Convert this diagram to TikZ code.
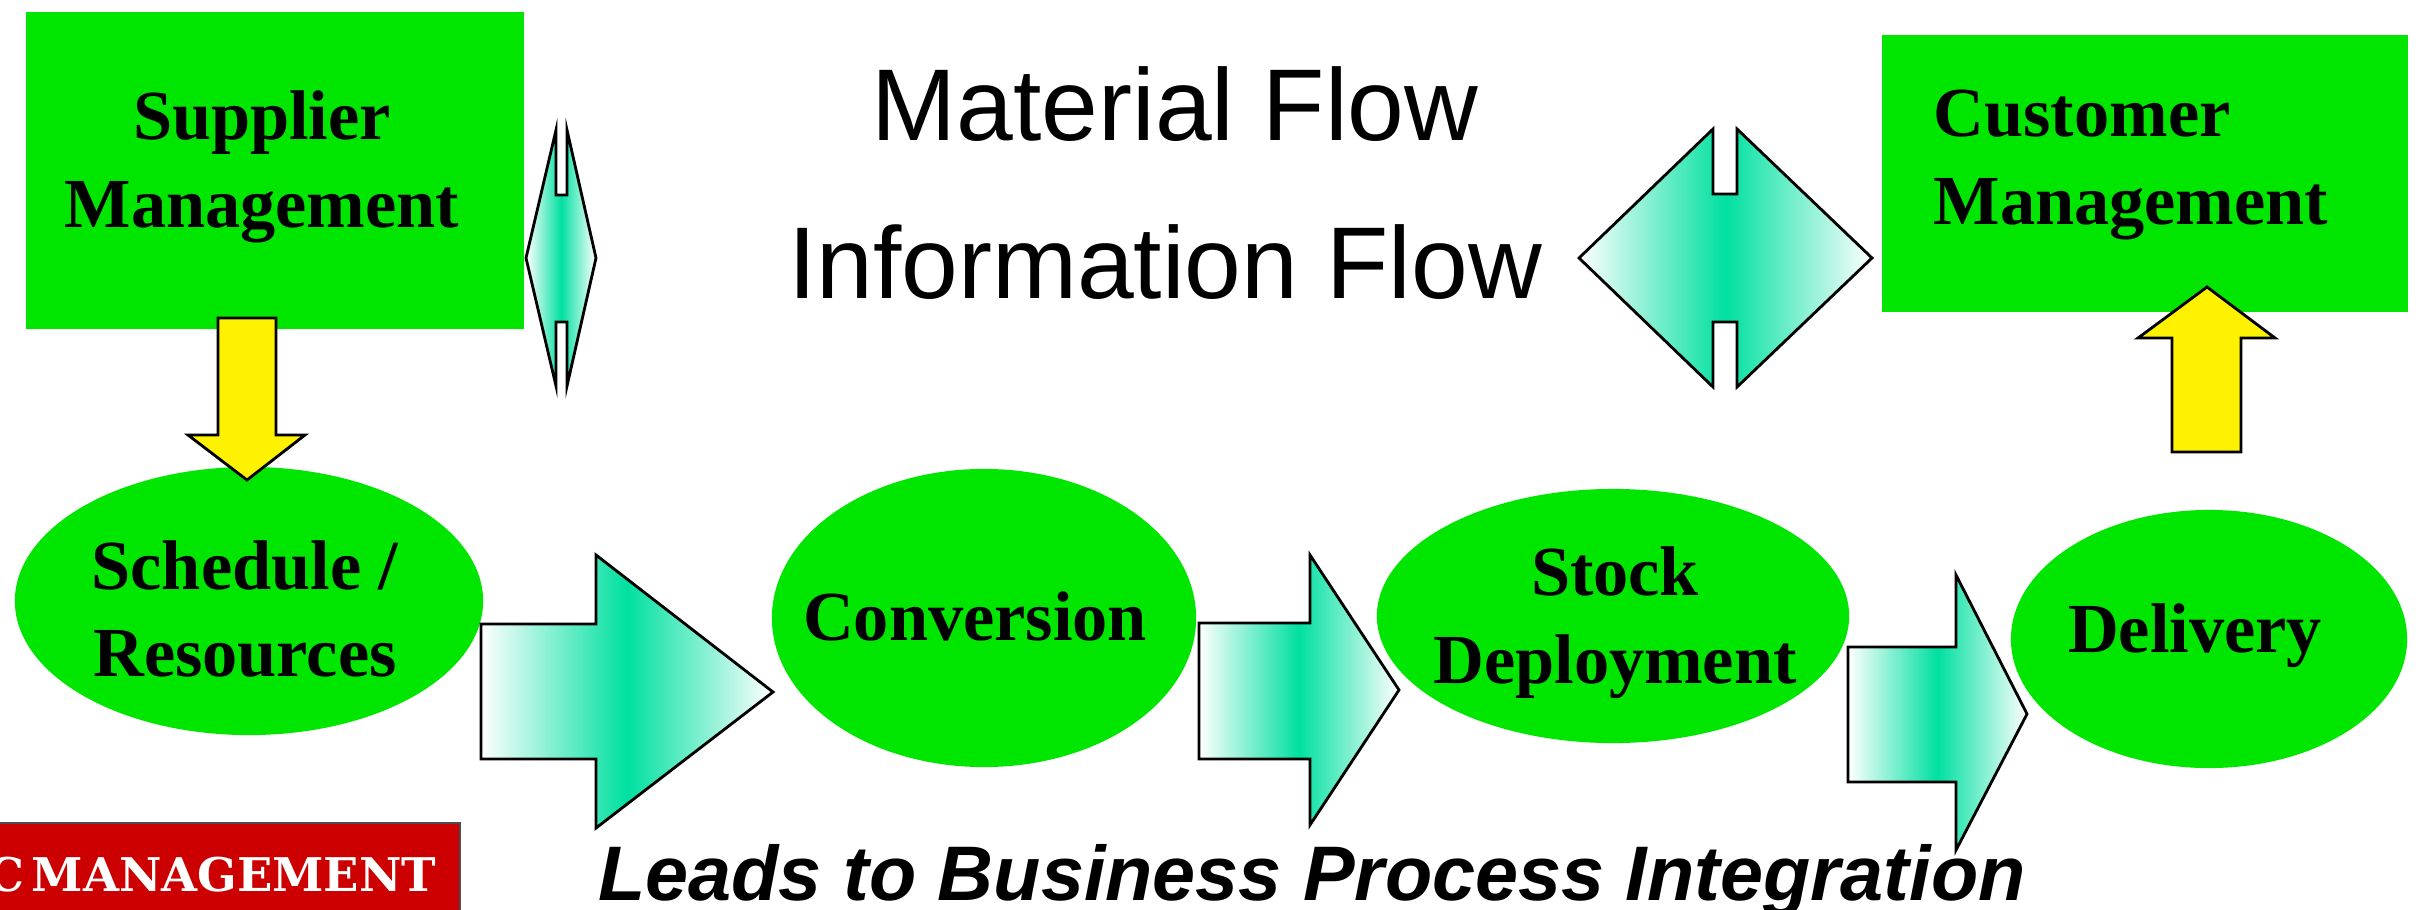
\documentclass[tikz,border=0pt]{standalone}
\usepackage{fontspec}
\setmainfont{Liberation Serif}
\setsansfont{Liberation Sans}
\newfontfamily\tagfont{DejaVu Serif}
\definecolor{boxgreen}{RGB}{0,230,0}
\definecolor{flowteal}{RGB}{0,224,160}
\definecolor{tagred}{RGB}{204,0,0}

\begin{document}
\begin{tikzpicture}[x=0.01cm,y=-0.01cm,
  boxtext/.style={font=\bfseries\fontsize{20}{25}\selectfont,align=center,inner sep=0pt},
  flowshape/.style={draw,line width=0.8pt,left color=white,right color=white,middle color=flowteal},
  yellowarrow/.style={draw,line width=0.8pt,fill=yellow}]
\path[use as bounding box,clip] (0,0) rectangle (2419,909);

\fill[boxgreen] (26,12) rectangle (524,329);
\node[boxtext] (supplier) at (262,167) {Supplier\\Management};
\fill[boxgreen] (1882,35) rectangle (2408,312);
\node[boxtext,align=left,anchor=west] (customer) at (1933,165) {Customer\\Management};

\fill[boxgreen] (249,601) ellipse (2.34cm and 1.34cm);
\fill[boxgreen] (984,618) ellipse (2.12cm and 1.49cm);
\fill[boxgreen] (1613,616) ellipse (2.36cm and 1.27cm);
\fill[boxgreen] (2209,639) ellipse (1.98cm and 1.29cm);
\node[boxtext] (sched) at (245,609) {Schedule /\\Resources};
\node[boxtext] (conv) at (975,616) {Conversion};
\node[boxtext] (stock) at (1615,623) {Stock\\Deployment};
\node[boxtext] (deliv) at (2195,636) {Delivery};

\draw[yellowarrow] (218,318) -- (276,318) -- (276,435) -- (305,435) -- (247,480) -- (188,435) -- (218,435) -- cycle;
\draw[yellowarrow] (2172,452) -- (2172,338) -- (2138,338) -- (2207,287) -- (2275,338) -- (2241,338) -- (2241,452) -- cycle;

\draw[flowshape] (556,130) -- (556,195) -- (567,195) -- (567,130) -- (596,258) -- (567,386) -- (567,322) -- (556,322) -- (556,386) -- (526,258) -- cycle;
\draw[flowshape] (1713,129) -- (1713,194) -- (1737,194) -- (1737,129) -- (1872,258) -- (1737,387) -- (1737,322) -- (1713,322) -- (1713,387) -- (1579,258) -- cycle;

\draw[flowshape] (481,624) -- (596,624) -- (596,555) -- (773,692) -- (596,828) -- (596,759) -- (481,759) -- cycle;
\draw[flowshape] (1199,623) -- (1310,623) -- (1310,555) -- (1399,690) -- (1310,825) -- (1310,759) -- (1199,759) -- cycle;
\draw[flowshape] (1848,647) -- (1956,647) -- (1956,575) -- (2027,714) -- (1956,850) -- (1956,782) -- (1848,782) -- cycle;

\node[font=\sffamily\fontsize{29}{35}\selectfont,anchor=base,inner sep=0pt] (matflow) at (1175,140) {Material Flow};
\node[font=\sffamily\fontsize{29}{35}\selectfont,anchor=base,inner sep=0pt] (infoflow) at (1165,298) {Information Flow};
\node[font=\sffamily\bfseries\itshape\fontsize{22}{26}\selectfont,anchor=base,inner sep=0pt] (leads) at (1312,900) {Leads to Business Process Integration};

\filldraw[fill=tagred,draw=black!70,line width=0.6pt] (-5,823) rectangle (460,920);
\node[font=\tagfont\bfseries\fontsize{13.2}{16}\selectfont,text=white,anchor=base east,inner sep=0pt] (tag) at (437,891) {C\hspace{0.15em}MANAGEMENT};
\end{tikzpicture}
\end{document}
